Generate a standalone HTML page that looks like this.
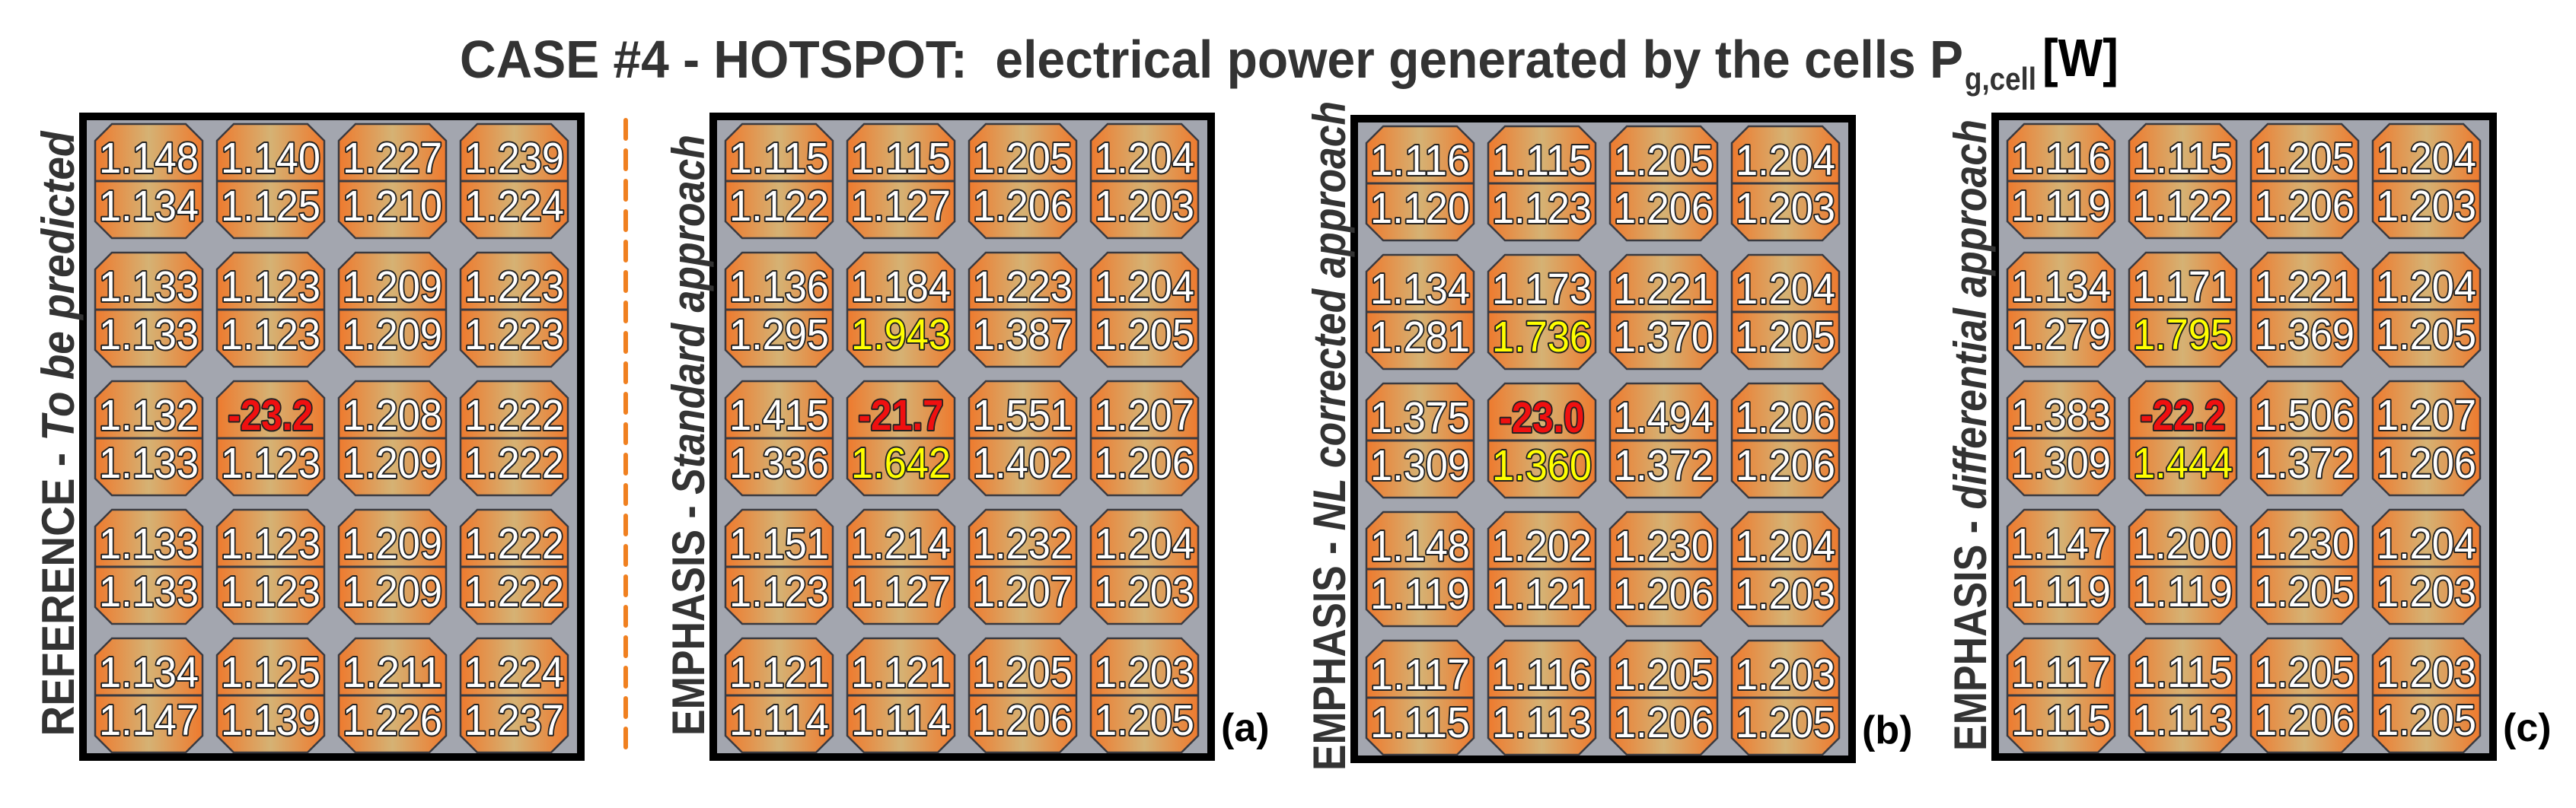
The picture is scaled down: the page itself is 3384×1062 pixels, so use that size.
<!DOCTYPE html>
<html><head><meta charset="utf-8"><style>
html,body{margin:0;padding:0;background:#fff;}
svg{display:block;}
</style></head><body>
<svg id="fig" xmlns="http://www.w3.org/2000/svg" width="3384" height="1062" viewBox="0 0 3384 1062">
<defs>
<linearGradient id="cellGrad" x1="0" y1="0" x2="1" y2="0">
<stop offset="0" stop-color="#EE7A2E"/><stop offset="0.5" stop-color="#D5B274"/><stop offset="1" stop-color="#EE7A2E"/>
</linearGradient>
</defs>
<g font-family="Liberation Sans, sans-serif" font-weight="bold">
<text x="604" y="102" font-size="70" fill="#333" textLength="1975" lengthAdjust="spacingAndGlyphs" xml:space="preserve">CASE #4 - HOTSPOT:  electrical power generated by the cells P</text>
<text x="2581" y="118" font-size="42" fill="#333" textLength="94" lengthAdjust="spacingAndGlyphs">g,cell</text>
<text x="2683" y="100" font-size="70" fill="#000" textLength="100" lengthAdjust="spacingAndGlyphs">[W]</text>
</g>
<line x1="822" y1="158" x2="822" y2="995" stroke="#F08020" stroke-width="6" stroke-dasharray="24,16" stroke-linecap="round"/>
<g id="panels"></g>
</svg>
<script>
const panelNames = ['reference', 'standard', 'nl-corrected', 'differential'];
const panelTitlesA = ['REFERENCE - ', 'EMPHASIS - ', 'EMPHASIS - ', 'EMPHASIS - '];
const panelTitlesB = ['To be predicted', 'Standard approach', 'NL corrected approach', 'differential approach'];
const panelTags = ['', '(a)', '(b)', '(c)'];
// top values [row][col]
const topRef = [[1.148,1.140,1.227,1.239],[1.133,1.123,1.209,1.223],[1.132,-23.2,1.208,1.222],[1.133,1.123,1.209,1.222],[1.134,1.125,1.211,1.224]];
const botRef = [[1.134,1.125,1.210,1.224],[1.133,1.123,1.209,1.223],[1.133,1.123,1.209,1.222],[1.133,1.123,1.209,1.222],[1.147,1.139,1.226,1.237]];
const topStd = [[1.115,1.115,1.205,1.204],[1.136,1.184,1.223,1.204],[1.415,-21.7,1.551,1.207],[1.151,1.214,1.232,1.204],[1.121,1.121,1.205,1.203]];
const botStd = [[1.122,1.127,1.206,1.203],[1.295,1.943,1.387,1.205],[1.336,1.642,1.402,1.206],[1.123,1.127,1.207,1.203],[1.114,1.114,1.206,1.205]];
const topNL = [[1.116,1.115,1.205,1.204],[1.134,1.173,1.221,1.204],[1.375,-23.0,1.494,1.206],[1.148,1.202,1.230,1.204],[1.117,1.116,1.205,1.203]];
const botNL = [[1.120,1.123,1.206,1.203],[1.281,1.736,1.370,1.205],[1.309,1.360,1.372,1.206],[1.119,1.121,1.206,1.203],[1.115,1.113,1.206,1.205]];
const topDiff = [[1.116,1.115,1.205,1.204],[1.134,1.171,1.221,1.204],[1.383,-22.2,1.506,1.207],[1.147,1.200,1.230,1.204],[1.117,1.115,1.205,1.203]];
const botDiff = [[1.119,1.122,1.206,1.203],[1.279,1.795,1.369,1.205],[1.309,1.444,1.372,1.206],[1.119,1.119,1.205,1.203],[1.115,1.113,1.206,1.205]];
// highlighted (yellow) bottom cells [row,col] for EMPHASIS panels
const yellowCells = [[1,1],[2,1]];

const tops = [topRef, topStd, topNL, topDiff];
const bots = [botRef, botStd, botNL, botDiff];
const NS = 'http://www.w3.org/2000/svg';
const root = document.getElementById('panels');
const panelLeft = [104, 932, 1774, 2616];
const panelTop = [148, 148, 151, 148];
const labelX = [97, 925, 1767, 2609];
const labelCY = [570, 572, 573, 572];
const labelLen = [795, 790, 880, 830];
const PW = 664, PH = 852, B = 10;
const CW = 141, CH = 150, PX = 160, PY = 169, OX = 21, OY = 15, CUT = 22;

function mk(tag, attrs, parent){ const e=document.createElementNS(NS,tag); for(const k in attrs) e.setAttribute(k,attrs[k]); parent.appendChild(e); return e; }
function fmt(v){ return v < 0 ? v.toFixed(1) : v.toFixed(3); }
function colX(p,c){ return panelLeft[p] + OX + c*PX; }
function rowY(p,r){ return panelTop[p] + OY + r*PY; }

for (let p=0;p<4;p++){
  const g = mk('g',{},root);
  
  
  const frame = mk('rect',{x:panelLeft[p]+B/2,y:panelTop[p]+B/2,width:PW-B,height:PH-B,fill:'#A3A6AF',stroke:'#000','stroke-width':B},g);
  
  
  const lbl = mk('text',{transform:`translate(${labelX[p]},${labelCY[p]}) rotate(-90)`,'text-anchor':'middle','font-family':'Liberation Sans, sans-serif','font-size':60,'font-weight':'bold',fill:'#333',textLength:labelLen[p],lengthAdjust:'spacingAndGlyphs'},g);
  
  
  const t1 = mk('tspan',{},lbl); t1.textContent = panelTitlesA[p];
  const t2 = mk('tspan',{'font-style':'italic'},lbl); t2.textContent = panelTitlesB[p];
  if (panelTags[p]) {
    const tag = mk('text',{x:panelLeft[p]+PW+8,y:panelTop[p]+PH-26,'font-family':'Liberation Sans, sans-serif','font-size':52,'font-weight':'bold',fill:'#000'},g);
    
    
    tag.textContent = panelTags[p];
  }
  for (let r=0;r<5;r++) for (let c=0;c<4;c++){
    const x=colX(p,c), y=rowY(p,r);
    const cg = mk('g',{},g);
    
    
    const d = `M${x+CUT},${y} H${x+CW-CUT} L${x+CW},${y+CUT} V${y+CH-CUT} L${x+CW-CUT},${y+CH} H${x+CUT} L${x},${y+CH-CUT} V${y+CUT} Z`;
    mk('path',{d:d,fill:'url(#cellGrad)',stroke:'#3a3a40','stroke-width':2.5},cg);
    mk('line',{x1:x,y1:y+CH/2,x2:x+CW,y2:y+CH/2,stroke:'#3a3a40','stroke-width':3},cg);
    const tv = tops[p][r][c], bv = bots[p][r][c];
    const hot = tv < 0;
    const yel = p>0 && yellowCells.some(a=>a[0]===r&&a[1]===c);
    const tt = mk('text',{x:x+CW/2,y:y+64,'text-anchor':'middle','font-family':'Liberation Sans, sans-serif','font-size':57,'font-weight':hot?'bold':'normal',fill:hot?'#F01010':'#fff',stroke:'#222','stroke-width':4,'paint-order':'stroke','stroke-linejoin':'round',textLength:hot?112:131,lengthAdjust:'spacingAndGlyphs'},cg);
    
    
    tt.textContent = fmt(tv);
    const bt = mk('text',{x:x+CW/2,y:y+127,'text-anchor':'middle','font-family':'Liberation Sans, sans-serif','font-size':57,fill:yel?'#FFFF00':'#fff',stroke:'#222','stroke-width':4,'paint-order':'stroke','stroke-linejoin':'round',textLength:131,lengthAdjust:'spacingAndGlyphs'},cg);
    
    
    bt.textContent = fmt(bv);
  }
}
</script>
</body></html>
